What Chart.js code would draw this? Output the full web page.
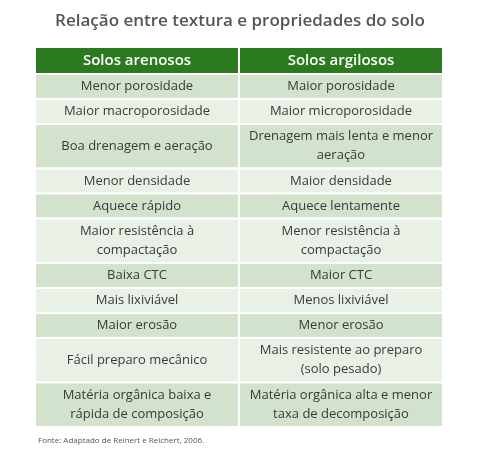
<!DOCTYPE html>
<html><head><meta charset="utf-8">
<script src="https://cdn.jsdelivr.net/npm/chart.js@4"></script>
<style>html,body{margin:0;background:#fff}#c{display:block}</style>
</head><body>
<canvas id="c" width="480" height="452"></canvas>
<script>
  const titleText = 'Relação entre textura e propriedades do solo';
  const headers = ['Solos arenosos', 'Solos argilosos'];
  const arenosos = ['Menor porosidade', 'Maior macroporosidade', 'Boa drenagem e aeração', 'Menor densidade',
    'Aquece rápido', 'Maior resistência à\ncompactação', 'Baixa CTC', 'Mais lixiviável', 'Maior erosão',
    'Fácil preparo mecânico', 'Matéria orgânica baixa e\nrápida de composição'];
  const argilosos = ['Maior porosidade', 'Maior microporosidade', 'Drenagem mais lenta e menor\naeração',
    'Maior densidade', 'Aquece lentamente', 'Menor resistência à\ncompactação', 'Maior CTC', 'Menos lixiviável',
    'Menor erosão', 'Mais resistente ao preparo\n(solo pesado)', 'Matéria orgânica alta e menor\ntaxa de decomposição'];
  const sourceText = 'Fonte: Adaptado de Reinert e Reichert, 2006.';

  // row sizes in scale units from the number of text lines
  const lineCount = arenosos.map(function(t, i) {
    return Math.max(t.split('\n').length, argilosos[i].split('\n').length);
  });
  const headerUnits = 27;
  const rowUnits = lineCount.map(function(n) { return n === 1 ? 25 : 44.5; });
  const totalUnits = headerUnits + rowUnits.reduce(function(a, b) { return a + b; }, 0);

  const tablePlugin = {
    id: 'table',
    beforeDatasetsDraw: function(chart) {
      const ctx = chart.ctx, x = chart.scales.x, y = chart.scales.y;
      const colX = [x.getPixelForValue(0), x.getPixelForValue(1), x.getPixelForValue(2)];
      ctx.save();
      ctx.textAlign = 'center';
      ctx.textBaseline = 'middle';

      function cell(c, y0, y1, fill, text, font, color) {
        const top = y.getPixelForValue(y0), bot = y.getPixelForValue(y1);
        ctx.fillStyle = fill;
        ctx.fillRect(colX[c], top, colX[c + 1] - colX[c], bot - top);
        ctx.strokeStyle = '#ffffff';
        ctx.lineWidth = 2;
        ctx.strokeRect(colX[c], top, colX[c + 1] - colX[c], bot - top);
        const lines = text.split('\n');
        ctx.font = font;
        ctx.fillStyle = color;
        const mid = (top + bot) / 2, lh = 19;
        lines.forEach(function(l, i) {
          ctx.fillText(l, (colX[c] + colX[c + 1]) / 2, mid + (i - (lines.length - 1) / 2) * lh);
        });
      }

      headers.forEach(function(h, c) {
        cell(c, 0, headerUnits, '#2b7a1f', h, '600 15px "Open Sans"', '#ffffff');
      });
      let pos = headerUnits;
      rowUnits.forEach(function(u, r) {
        const fill = r % 2 === 0 ? '#d3e2cd' : '#e9f0e6';
        cell(0, pos, pos + u, fill, arenosos[r], '500 13px "Open Sans"', '#3a3a3a');
        cell(1, pos, pos + u, fill, argilosos[r], '500 13px "Open Sans"', '#3a3a3a');
        pos += u;
      });

      ctx.font = '600 17px "Open Sans"';
      ctx.fillStyle = '#555555';
      ctx.fillText(titleText, 240, 21);
      ctx.font = '8px "Open Sans"';
      ctx.textAlign = 'left';
      ctx.fillStyle = '#555555';
      ctx.fillText(sourceText, 38, y.getPixelForValue(totalUnits) + 14);
      ctx.restore();
    }
  };

  new Chart(document.getElementById('c'), {
    type: 'bar',
    data: { labels: [], datasets: [] },
    options: {
      responsive: false,
      animation: false,
      layout: { padding: { left: 35, right: 37, top: 47, bottom: 25 } },
      plugins: { legend: { display: false }, tooltip: { enabled: false } },
      scales: {
        x: { type: 'linear', min: 0, max: 2, offset: false, display: false },
        y: { type: 'linear', min: 0, max: totalUnits, reverse: true, offset: false, display: false }
      }
    },
    plugins: [tablePlugin]
  });
</script>
</body></html>
